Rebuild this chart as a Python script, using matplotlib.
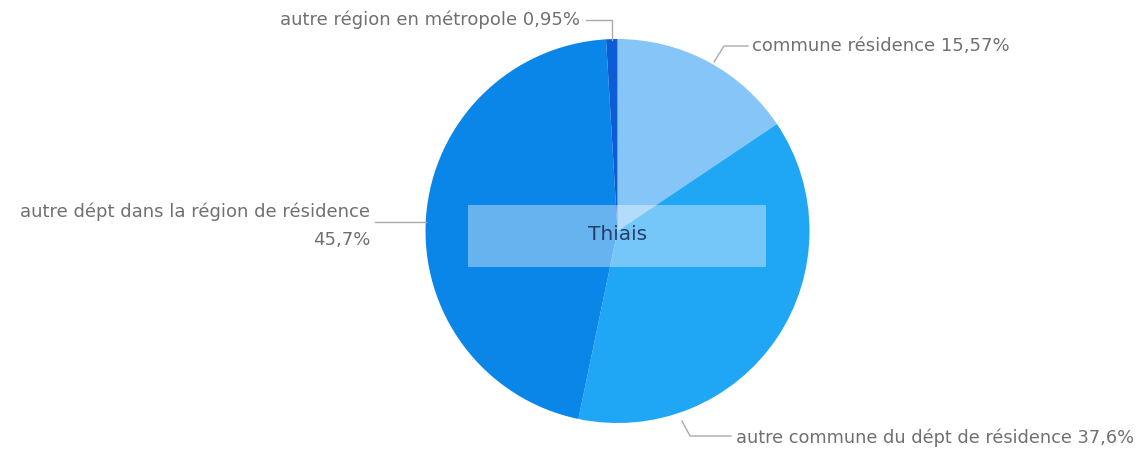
import matplotlib
matplotlib.use("Agg")
import matplotlib.pyplot as plt

labels = ["commune résidence", "autre commune du dépt de résidence",
          "autre dépt dans la région de résidence", "autre région en métropole"]
values = [15.57, 37.6, 45.7, 0.95]
value_text = ["15,57%", "37,6%", "45,7%", "0,95%"]
colors = ["#86c5f7", "#1fa6f5", "#0a85e8", "#0b5cd6"]
title = "Thiais"

W, H = 1145, 449
fig = plt.figure(figsize=(W / 100, H / 100), dpi=100)
ax = fig.add_axes([0, 0, 1, 1])

def Y(py):
    return H - py

cx, cy, r = 617.5, Y(231), 192
ax.pie(values, colors=colors, startangle=90, counterclock=False,
       center=(cx, cy), radius=r, wedgeprops=dict(linewidth=0),
       frame=True)
ax.set_xlim(0, W)
ax.set_ylim(0, H)
ax.set_aspect("equal")
ax.axis("off")

# overlay box with title
ax.add_patch(plt.Rectangle((468, Y(267)), 298, 62, facecolor="white",
                           alpha=0.38, edgecolor="none", zorder=5))
ax.text(618, Y(234), title, ha="center", va="center", fontsize=14.5,
        color="#253d6b", zorder=6)

tc = "#707070"
lc = "#aaaaaa"
fs = 13.0
# autre région en métropole
ax.plot([612, 612, 586], [Y(40), Y(20), Y(20)], color=lc, lw=1)
ax.text(580, Y(20), f"{labels[3]} {value_text[3]}", ha="right", va="center",
        fontsize=fs, color=tc)
# commune résidence
ax.plot([714, 724, 748], [Y(62), Y(46), Y(46)], color=lc, lw=1)
ax.text(752, Y(46), f"{labels[0]} {value_text[0]}", ha="left", va="center",
        fontsize=fs, color=tc)
# autre dépt
ax.plot([426, 375], [Y(222), Y(222)], color=lc, lw=1)
ax.text(370, Y(212), labels[2], ha="right", va="center", fontsize=fs, color=tc)
ax.text(370, Y(240), value_text[2], ha="right", va="center", fontsize=fs, color=tc)
# autre commune du dépt
ax.plot([682, 690, 731], [Y(421), Y(436), Y(436)], color=lc, lw=1)
ax.text(736, Y(438), f"{labels[1]} {value_text[1]}", ha="left", va="center",
        fontsize=12.8, color=tc)

fig.savefig("out.png", dpi=100, facecolor="white")
